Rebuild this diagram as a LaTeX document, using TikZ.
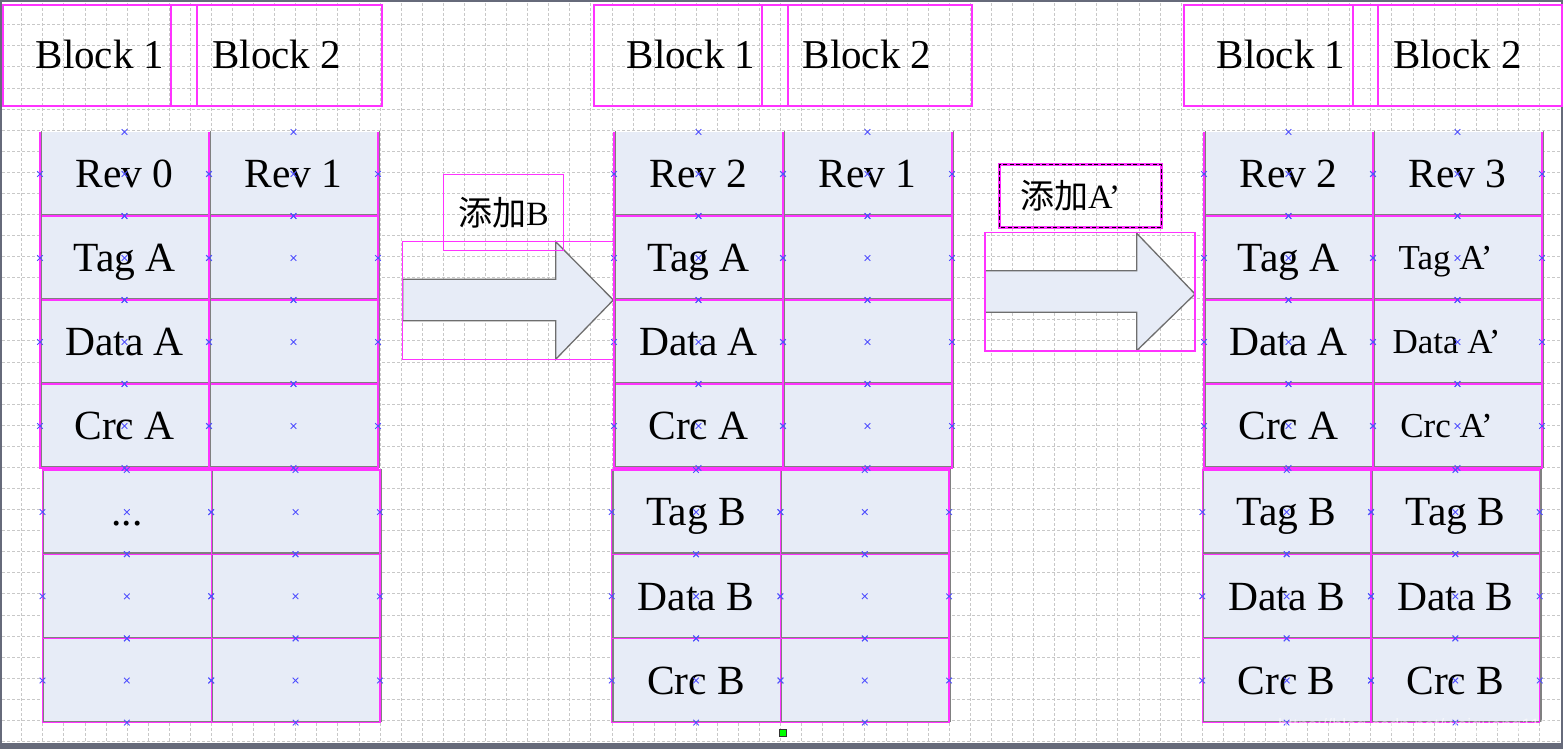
\documentclass[tikz,border=0pt]{standalone}
\usepackage{fontspec}
\setmainfont{Liberation Serif}
\newfontfamily\cjkfont{Noto Sans CJK SC}
\newfontfamily\wmfont{Liberation Sans}
\usetikzlibrary{calc}

\begin{document}
\begin{tikzpicture}[%
x=1pt, y=-1pt,
cell/.style={fill={rgb,255:red,231;green,236;blue,247}, minimum width=169pt, minimum height=84pt, inner sep=0pt, outer sep=0pt, font=\fontsize{41.5}{41.5}\selectfont, text height=27.5pt, text depth=0pt},
lowcell/.style={cell, minimum width=168.7pt, minimum height=84.2pt},
thin/.style={font=\fontsize{35}{35}\selectfont, text height=23pt},
blockbox/.style={draw={rgb,255:red,255;green,51;blue,255}, line width=1.8pt, inner sep=0pt, outer sep=0pt, minimum height=101pt, font=\fontsize{41}{41}\selectfont, text height=27pt, text depth=0pt},
tagbox/.style={draw={rgb,255:red,255;green,51;blue,255}, line width=1.5pt, inner sep=0pt, outer sep=0pt, font=\fontsize{34}{34}\selectfont},
edgegray/.style={color={rgb,255:red,128;green,128;blue,128}, line width=1.4pt},
edgepink/.style={color={rgb,255:red,255;green,51;blue,255}, line width=1.4pt},
cpoint/.style={color={rgb,255:red,80;green,80;blue,255}, line width=0.9pt},
gridline/.style={color={rgb,255:red,200;green,200;blue,200}, line width=0.8pt, dash pattern=on 3pt off 2pt},
bigarrow/.style={fill={rgb,255:red,231;green,236;blue,247}, draw={rgb,255:red,110;green,110;blue,110}, line width=1.3pt, line join=miter},
]
\useasboundingbox (0,0) rectangle (1563,749);
%% window;
\fill [color={rgb,255:red,102;green,106;blue,122}] (0,0) rectangle (1563,749);
\fill [white] (1.5,2.5) rectangle (1560.5,742.5);
%% grid;
\foreach \i in {1,...,73} \draw [gridline] ({0.6+21.08*\i},3) -- ({0.6+21.08*\i},742);
\foreach \j in {1,...,35} \draw [gridline] (2,{3.6+21.08*\j}) -- (1560,{3.6+21.08*\j});
%% block headers;
\node [blockbox, minimum width=194.6pt] (L1) at (100,55.5) {Block 1};
\node [blockbox, minimum width=211pt] (L2) at (276.8,55.5) {Block 2};
\node [blockbox, minimum width=194pt] (M1) at (691,55.5) {Block 1};
\node [blockbox, minimum width=210pt] (M2) at (867,55.5) {Block 2};
\node [blockbox, minimum width=194pt] (R1) at (1281,55.5) {Block 1};
\node [blockbox, minimum width=208.7pt] (R2) at (1457.35,55.5) {Block 2};
%% left table;
\node [cell] (L11) at (124.5,174) {Rev 0};
\node [cell] (L12) at (293.5,174) {Rev 1};
\node [cell] (L21) at (124.5,258) {Tag A};
\node [cell] (L22) at (293.5,258) {};
\node [cell] (L31) at (124.5,342) {Data A};
\node [cell] (L32) at (293.5,342) {};
\node [cell] (L41) at (124.5,426) {Crc A};
\node [cell] (L42) at (293.5,426) {};
\node [lowcell] (L51) at (126.85,512.1) {...};
\node [lowcell] (L52) at (295.55,512.1) {};
\node [lowcell] (L61) at (126.85,596.3) {};
\node [lowcell] (L62) at (295.55,596.3) {};
\node [lowcell] (L71) at (126.85,680.5) {};
\node [lowcell] (L72) at (295.55,680.5) {};
%% middle table;
\node [cell] (M11) at (698.5,174) {Rev 2};
\node [cell] (M12) at (867.5,174) {Rev 1};
\node [cell] (M21) at (698.5,258) {Tag A};
\node [cell] (M22) at (867.5,258) {};
\node [cell] (M31) at (698.5,342) {Data A};
\node [cell] (M32) at (867.5,342) {};
\node [cell] (M41) at (698.5,426) {Crc A};
\node [cell] (M42) at (867.5,426) {};
\node [lowcell] (M51) at (696.05,512.1) {Tag B};
\node [lowcell] (M52) at (864.75,512.1) {};
\node [lowcell] (M61) at (696.05,596.3) {Data B};
\node [lowcell] (M62) at (864.75,596.3) {};
\node [lowcell] (M71) at (696.05,680.5) {Crc B};
\node [lowcell] (M72) at (864.75,680.5) {};
%% right table;
\node [cell] (R11) at (1288.5,174) {Rev 2};
\node [cell] (R12) at (1457.5,174) {Rev 3};
\node [cell] (R21) at (1288.5,258) {Tag A};
\node [cell, thin] (R22) at (1457.5,258) {Tag A’\kern24pt};
\node [cell] (R31) at (1288.5,342) {Data A};
\node [cell, thin] (R32) at (1457.5,342) {Data A’\kern22pt};
\node [cell] (R41) at (1288.5,426) {Crc A};
\node [cell, thin] (R42) at (1457.5,426) {Crc A’\kern22pt};
\node [lowcell] (R51) at (1286.65,512.1) {Tag B};
\node [lowcell] (R52) at (1455.35,512.1) {Tag B};
\node [lowcell] (R61) at (1286.65,596.3) {Data B};
\node [lowcell] (R62) at (1455.35,596.3) {Data B};
\node [lowcell] (R71) at (1286.65,680.5) {Crc B};
\node [lowcell] (R72) at (1455.35,680.5) {Crc B};
%% cell edges;
\foreach \t in {L,M,R} {
  \foreach \r in {1,2,3,4} \foreach \k in {1,2} {
    \draw [edgegray] ([shift={(1.2,-1.2)}]\t\r\k.north west) -- ([shift={(1.2,-1.2)}]\t\r\k.south west) -- ([shift={(1.2,-1.2)}]\t\r\k.south east) -- ([shift={(1.2,-1.2)}]\t\r\k.north east);
    \draw [edgepink] (\t\r\k.north west) -- (\t\r\k.south west) -- (\t\r\k.south east) -- (\t\r\k.north east);
  }
  \foreach \r in {5,6,7} \foreach \k in {1,2} {
    \draw [edgegray] ([shift={(1.2,-1.2)}]\t\r\k.north west) -- ([shift={(1.2,-1.2)}]\t\r\k.south west) -- ([shift={(1.2,-1.2)}]\t\r\k.south east) -- ([shift={(1.2,-1.2)}]\t\r\k.north east);
    \draw [edgepink] (\t\r\k.north west) rectangle (\t\r\k.south east);
  }
}
%% connection points;
\foreach \t in {L,M,R} \foreach \r in {1,...,7} \foreach \k in {1,2} \foreach \a in {north,south,east,west,center}
  \draw [cpoint] (\t\r\k.\a) +(-2.8,-2.8) -- +(2.8,2.8) +(-2.8,2.8) -- +(2.8,-2.8);
%% arrow;
\draw [bigarrow] (402.7,279.3) -- (555.7,279.3) -- (555.7,241.7) -- (613.3,300) -- (555.7,359.3) -- (555.7,320.7) -- (402.7,320.7) -- cycle;
\draw [edgepink, line width=1.3pt] (402.7,241.7) rectangle (613.5,359.3);
\node [tagbox, minimum width=120.4pt, minimum height=76.4pt] (addB) at (503.5,212.5) {{\cjkfont 添加}B};
%% arrow;
\draw [bigarrow] (985,270.7) -- (1136.7,270.7) -- (1136.7,233.3) -- (1195,294) -- (1136.7,350.7) -- (1136.7,312.3) -- (985,312.3) -- cycle;
\draw [edgepink, line width=1.3pt] (985,232.5) rectangle (1195,351);
\node [tagbox, line width=3pt, minimum width=161.7pt, minimum height=63.3pt] (addA) at (1080.2,195.7) {\raisebox{3pt}{{\cjkfont 添加}A’}\kern20pt};
\draw [black, line width=0.9pt, dash pattern=on 4pt off 2.5pt] (addA.north west) rectangle (addA.south east);
%% handle;
\node [draw=black!80, fill=green, line width=0.8pt, minimum size=7pt, inner sep=0pt] (handle) at (782.8,733) {};
%% watermark;
\node [font=\wmfont\fontsize{18}{18}\selectfont, text=white, opacity=0.6, anchor=west, inner sep=0pt] (wm) at (1278,727) {https://blog.csdn.net/weiguang119};
\end{tikzpicture}
\end{document}
